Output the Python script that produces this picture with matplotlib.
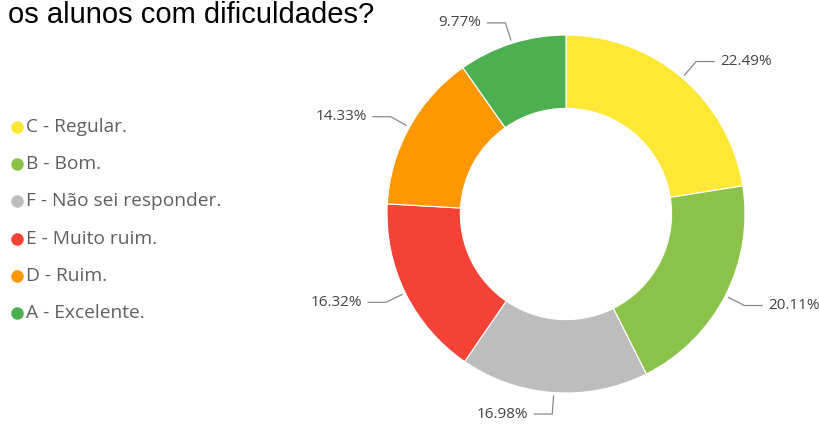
import numpy as np
import matplotlib.pyplot as plt
from matplotlib.lines import Line2D

# dados do gráfico
categorias = ['C - Regular.', 'B - Bom.', 'F - Não sei responder.',
              'E - Muito ruim.', 'D - Ruim.', 'A - Excelente.']
percentuais = [22.49, 20.11, 16.98, 16.32, 14.33, 9.77]
cores = ['#FFE835', '#8BC34A', '#BDBDBD', '#F44336', '#FF9800', '#4CAF50']

W, H = 819, 424
fig = plt.figure(figsize=(W / 100, H / 100), dpi=100)

# eixo do donut: raio 1 = 179 px, centro em (566, 214) px
R = 179
cx, cy = 566, 214
lim = 1.7
size = 2 * lim * R
ax = fig.add_axes([(cx - size / 2) / W, (H - cy - size / 2) / H, size / W, size / H])

wedges, _ = ax.pie(percentuais, colors=cores, startangle=90, counterclock=False,
                   radius=1, wedgeprops=dict(width=0.41, edgecolor='white', linewidth=0.8))
# pie() fixa os limites em +-1.25, então redefinir depois
ax.set_xlim(-lim, lim)
ax.set_ylim(-lim, lim)
ax.set_aspect('equal')
ax.axis('off')

# rótulos com linhas de chamada
for w, p in zip(wedges, percentuais):
    ang = np.deg2rad((w.theta1 + w.theta2) / 2)
    c, s = np.cos(ang), np.sin(ang)
    lado = 1 if c >= 0 else -1
    x0, y0 = 1.02 * c, 1.02 * s
    x1, y1 = 1.12 * c, 1.12 * s
    x2 = x1 + lado * 0.10
    ax.plot([x0, x1, x2], [y0, y1, y1], color='#8a8a8a', lw=0.9)
    ax.text(x2 + lado * 0.035, y1, f'{p:.2f}%', ha='left' if lado > 0 else 'right',
            va='center', fontsize=11, color='#444444', family='Open Sans')

# legenda
for i, (lab, col) in enumerate(zip(categorias, cores)):
    y = 1 - (127 + i * 37.2) / H
    fig.add_artist(Line2D([17 / W], [y], marker='o', markersize=8, color=col,
                          ls='', transform=fig.transFigure))
    fig.text(26 / W, y, lab, ha='left', va='center', fontsize=13.8,
             color='#606060', family='Open Sans')

# título (cortado no topo da imagem)
fig.text(8 / W, 1 - 1 / H, 'os alunos com dificuldades?', ha='left', va='top',
         fontsize=21, color='black', family='Liberation Sans')

fig.savefig('out.png', dpi=100)
